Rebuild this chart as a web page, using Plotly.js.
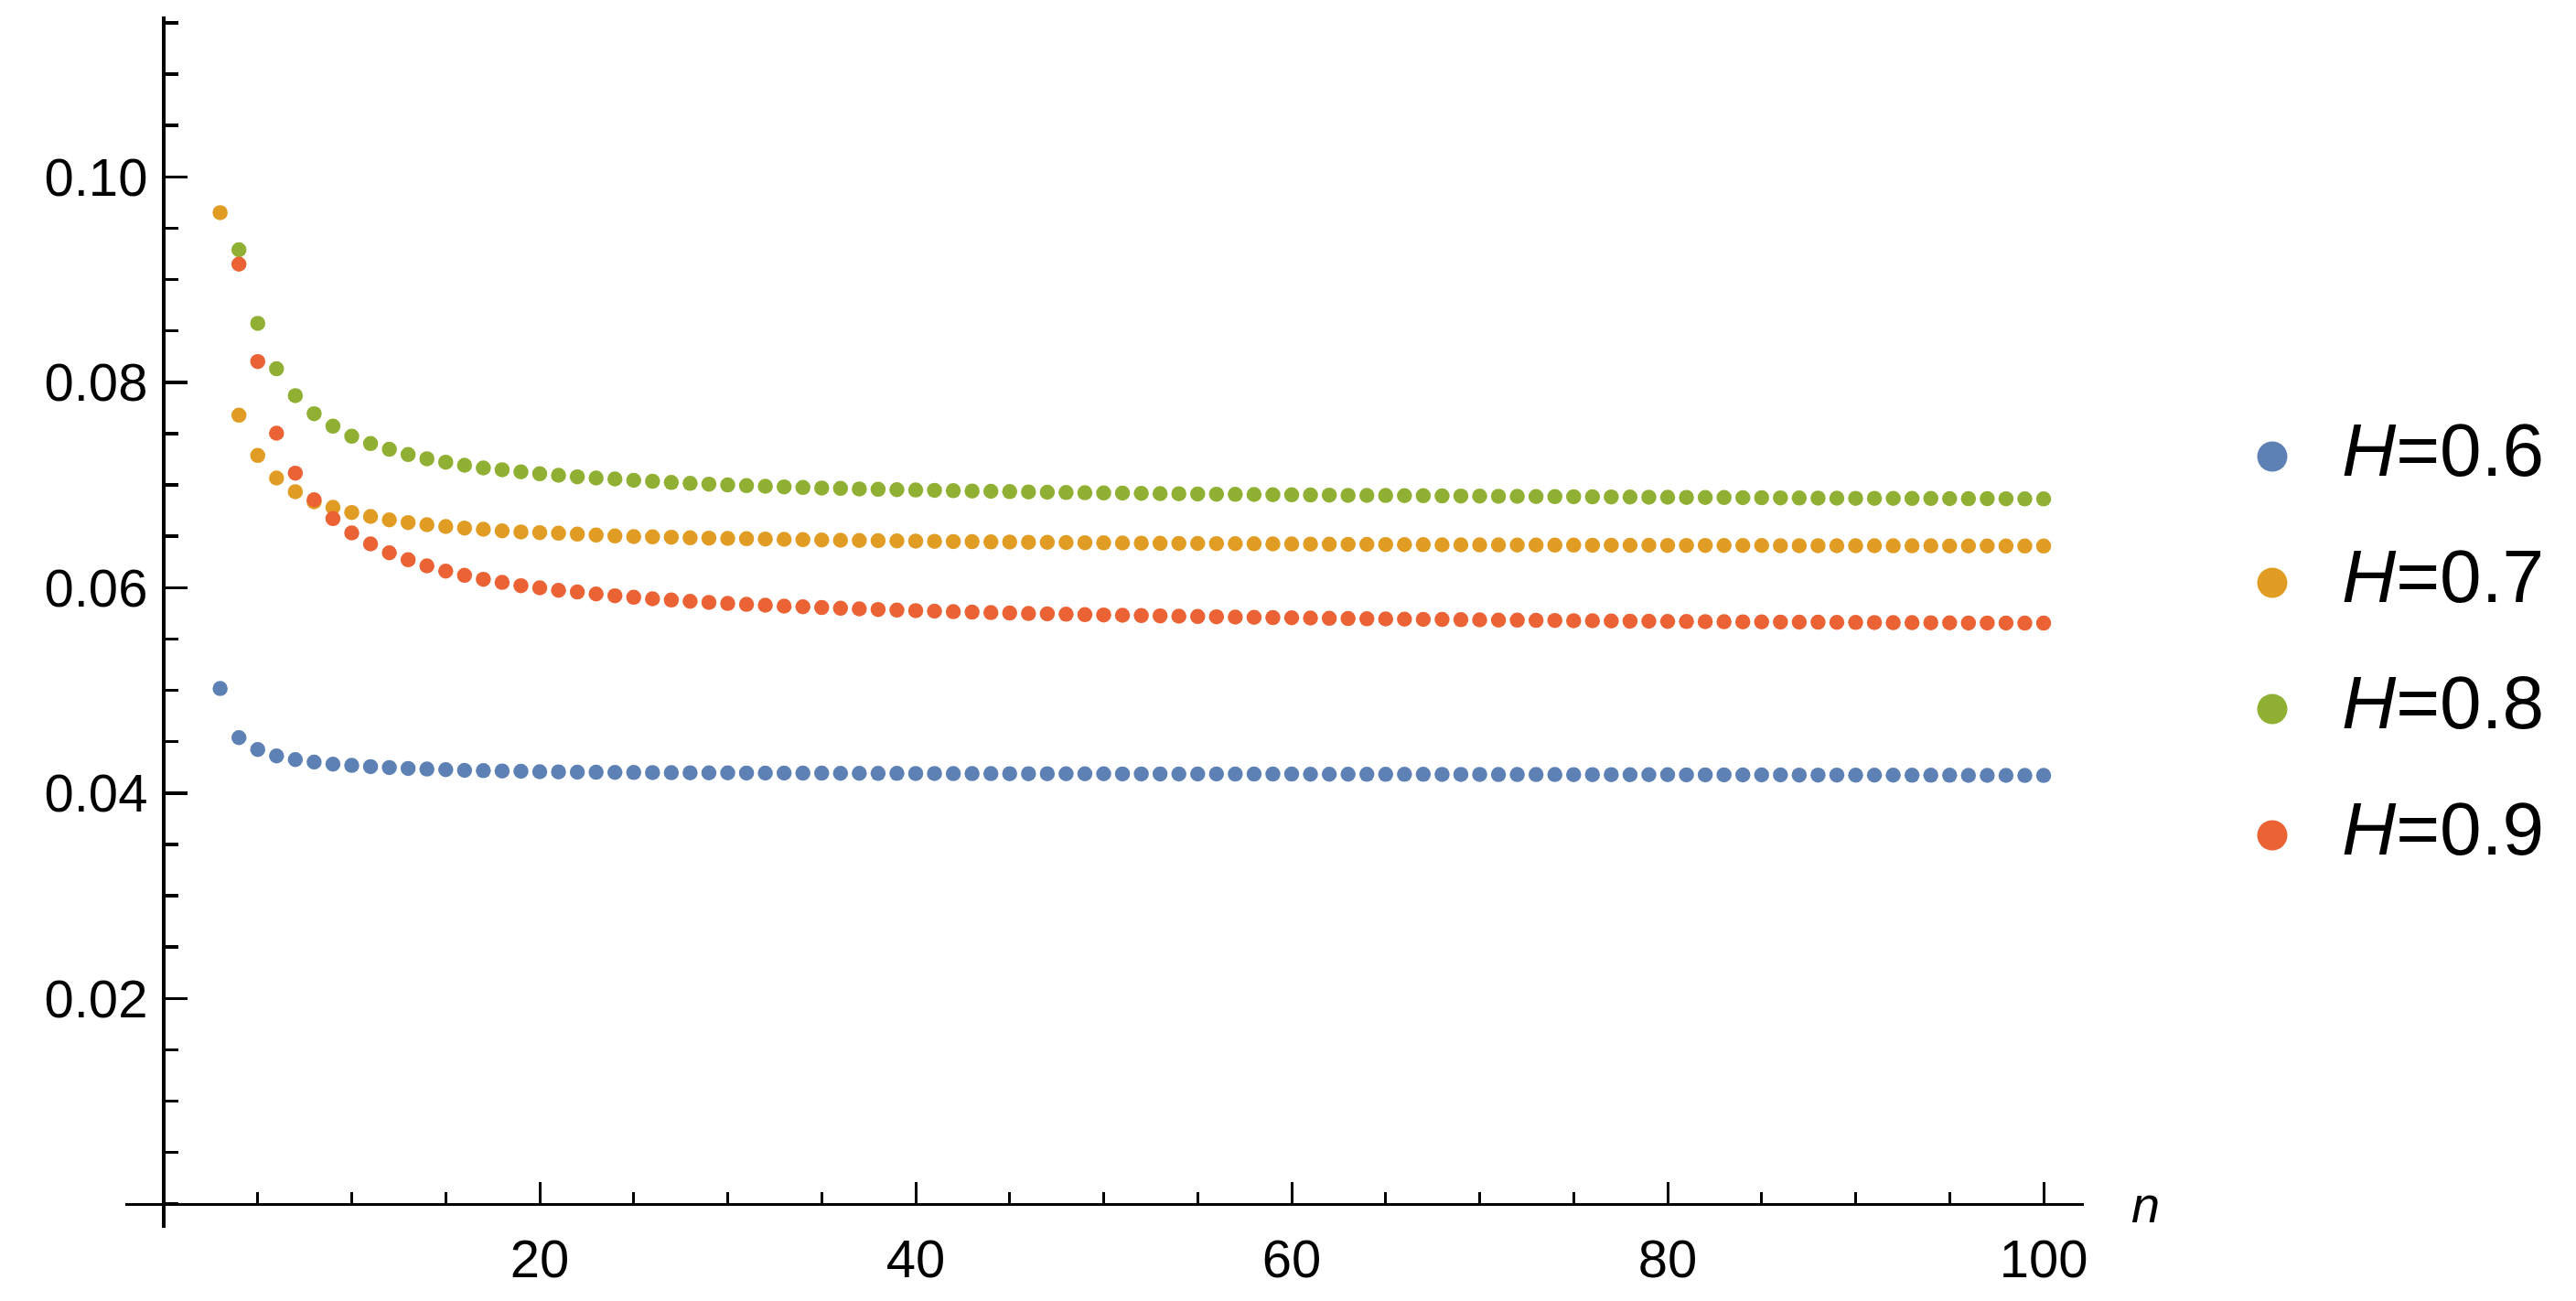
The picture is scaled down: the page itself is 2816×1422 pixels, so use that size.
<!DOCTYPE html>
<html>
<head>
<meta charset="utf-8">
<script src="https://cdn.plot.ly/plotly-3.0.1.min.js"></script>
<style>html,body{margin:0;padding:0;background:#fff;}#chart{width:2816px;height:1422px;}</style>
</head>
<body>
<div id="chart"></div>
<script>
// ---- data ----
const seriesNames = ["H=0.6", "H=0.7", "H=0.8", "H=0.9"];
const legendLabels = ["<i>H</i>=0.6", "<i>H</i>=0.7", "<i>H</i>=0.8", "<i>H</i>=0.9"];
const seriesColors = ["#5E81B5", "#E19C24", "#8FB032", "#EB6235"];
const firstN = [3, 3, 4, 4];

const h06 = [0.05017,0.04539,0.04423,0.04361,0.04325,0.04301,0.04281,0.04269,0.04257,0.04248,
0.04239,0.04233,0.04227,0.04221,0.04218,0.04215,0.04212,0.04207,0.04206,0.04203,
0.04202,0.04201,0.04200,0.04199,0.04198,0.04197,0.04196,0.04196,0.04195,0.04194,
0.04194,0.04193,0.04193,0.04192,0.04192,0.04191,0.04191,0.04190,0.04190,0.04189,
0.04189,0.04189,0.04188,0.04188,0.04188,0.04187,0.04187,0.04187,0.04186,0.04186,
0.04186,0.04185,0.04185,0.04185,0.04184,0.04184,0.04184,0.04184,0.04183,0.04183,
0.04183,0.04182,0.04182,0.04182,0.04182,0.04181,0.04181,0.04181,0.04180,0.04180,
0.04180,0.04180,0.04179,0.04179,0.04179,0.04178,0.04178,0.04178,0.04177,0.04177,
0.04177,0.04176,0.04176,0.04176,0.04175,0.04175,0.04175,0.04174,0.04174,0.04174,
0.04173,0.04173,0.04173,0.04172,0.04172,0.04172,0.04171,0.04171];

const h07 = [0.09652,0.07679,0.07287,0.07067,0.06934,0.06836,0.06782,0.06732,0.06693,0.06660,
0.06634,0.06613,0.06595,0.06580,0.06568,0.06553,0.06542,0.06536,0.06530,0.06521,
0.06512,0.06503,0.06497,0.06494,0.06491,0.06485,0.06482,0.06479,0.06476,0.06473,
0.06470,0.06467,0.06464,0.06461,0.06459,0.06457,0.06455,0.06453,0.06451,0.06449,
0.06447,0.06445,0.06444,0.06442,0.06441,0.06439,0.06438,0.06436,0.06435,0.06433,
0.06432,0.06431,0.06430,0.06429,0.06428,0.06427,0.06426,0.06425,0.06424,0.06423,
0.06422,0.06421,0.06420,0.06419,0.06418,0.06417,0.06417,0.06416,0.06416,0.06415,
0.06415,0.06414,0.06414,0.06413,0.06413,0.06412,0.06412,0.06411,0.06411,0.06411,
0.06410,0.06410,0.06410,0.06409,0.06409,0.06409,0.06408,0.06408,0.06408,0.06407,
0.06407,0.06407,0.06406,0.06406,0.06406,0.06405,0.06405,0.06405];

const h08 = [0.09290,0.08574,0.08131,0.07870,0.07694,0.07572,0.07474,0.07403,0.07347,0.07296,
0.07255,0.07222,0.07192,0.07165,0.07148,0.07127,0.07109,0.07094,0.07079,0.07067,
0.07058,0.07045,0.07035,0.07024,0.07015,0.07008,0.07000,0.06993,0.06987,0.06981,
0.06975,0.06970,0.06966,0.06961,0.06957,0.06954,0.06951,0.06948,0.06944,0.06941,
0.06938,0.06935,0.06932,0.06929,0.06926,0.06924,0.06922,0.06920,0.06918,0.06916,
0.06914,0.06912,0.06910,0.06908,0.06907,0.06905,0.06904,0.06902,0.06901,0.06899,
0.06898,0.06897,0.06896,0.06895,0.06893,0.06892,0.06891,0.06890,0.06889,0.06887,
0.06886,0.06885,0.06884,0.06883,0.06882,0.06881,0.06880,0.06879,0.06878,0.06877,
0.06876,0.06875,0.06874,0.06873,0.06872,0.06871,0.06870,0.06870,0.06869,0.06868,
0.06868,0.06867,0.06866,0.06866,0.06865,0.06864,0.06864];

const h09 = [0.09150,0.08202,0.07504,0.07115,0.06856,0.06672,0.06533,0.06426,0.06339,0.06271,
0.06212,0.06161,0.06120,0.06081,0.06051,0.06019,0.05998,0.05974,0.05957,0.05938,
0.05921,0.05906,0.05891,0.05879,0.05867,0.05856,0.05846,0.05837,0.05829,0.05820,
0.05813,0.05806,0.05799,0.05793,0.05787,0.05781,0.05776,0.05771,0.05766,0.05761,
0.05757,0.05752,0.05748,0.05745,0.05741,0.05737,0.05734,0.05731,0.05728,0.05725,
0.05722,0.05719,0.05716,0.05713,0.05711,0.05708,0.05706,0.05704,0.05701,0.05699,
0.05697,0.05695,0.05693,0.05691,0.05690,0.05688,0.05686,0.05684,0.05683,0.05681,
0.05680,0.05678,0.05677,0.05675,0.05674,0.05673,0.05671,0.05670,0.05669,0.05668,
0.05667,0.05666,0.05665,0.05664,0.05663,0.05662,0.05661,0.05660,0.05659,0.05659,
0.05658,0.05657,0.05656,0.05656,0.05655,0.05654,0.05654];

const xTickVals = [20, 40, 60, 80, 100];
const xTickText = ["20", "40", "60", "80", "100"];
const yTickVals = [0.02, 0.04, 0.06, 0.08, 0.10];
const yTickText = ["0.02", "0.04", "0.06", "0.08", "0.10"];

// ---- figure ----
const W = 2816, H = 1422;
const FONT = "Liberation Sans, Arial, Helvetica, sans-serif";
const seriesValues = [h06, h07, h08, h09];

const traces = seriesValues.map((vals, i) => ({
  type: "scatter", mode: "markers", name: seriesNames[i],
  x: vals.map((_, k) => firstN[i] + k), y: vals,
  marker: {color: seriesColors[i], size: 16.5, line: {width: 0}},
  showlegend: false, cliponaxis: false, hoverinfo: "skip",
  xaxis: "x", yaxis: "y"
}));

// legend drawn on an auxiliary hidden axis pair
const legendRows = seriesNames.map((_, i) => i);
traces.push({
  type: "scatter", mode: "markers", x: legendRows.map(() => 0), y: legendRows,
  marker: {color: seriesColors, size: 33, line: {width: 0}},
  showlegend: false, hoverinfo: "skip", xaxis: "x2", yaxis: "y2", cliponaxis: false
});
traces.push({
  type: "scatter", mode: "text", x: legendRows.map(() => 1), y: legendRows,
  text: legendLabels, textposition: "middle right",
  textfont: {family: FONT, size: 82, color: "#000"},
  showlegend: false, hoverinfo: "skip", xaxis: "x2", yaxis: "y2", cliponaxis: false
});

const xDom = [137 / W, 2278 / W];
const yDom = [1 - 1342 / H, 1 - 18 / H];
const xRange = [-2.044, 102.14];
const yRange = [-0.00234, 0.11562];
const xAxisPos = yDom[0] + (0 - yRange[0]) / (yRange[1] - yRange[0]) * (yDom[1] - yDom[0]);
const yAxisPos = xDom[0] + (0 - xRange[0]) / (xRange[1] - xRange[0]) * (xDom[1] - xDom[0]);

const layout = {
  width: W, height: H,
  margin: {l: 0, r: 0, t: 0, b: 0, pad: 0},
  paper_bgcolor: "#fff", plot_bgcolor: "rgba(0,0,0,0)",
  showlegend: false,
  font: {family: FONT, color: "#000"},
  xaxis: {
    domain: xDom, range: xRange, anchor: "free", position: xAxisPos,
    showline: true, linecolor: "#000", linewidth: 3.3,
    showgrid: false, zeroline: false,
    ticks: "inside", ticklen: 23, tickwidth: 3, tickcolor: "#000",
    tickmode: "array", tickvals: xTickVals, ticktext: xTickText,
    tickfont: {family: FONT, size: 58, color: "#000"}, ticklabelstandoff: 8,
    minor: {tickmode: "linear", tick0: 0, dtick: 5, ticks: "inside", ticklen: 12, tickwidth: 3, tickcolor: "#000", showgrid: false}
  },
  yaxis: {
    domain: yDom, range: yRange, anchor: "free", position: yAxisPos,
    showline: true, linecolor: "#000", linewidth: 4,
    showgrid: false, zeroline: false,
    ticks: "inside", ticklen: 24, tickwidth: 3.5, tickcolor: "#000",
    tickmode: "array", tickvals: yTickVals, ticktext: yTickText,
    tickfont: {family: FONT, size: 58, color: "#000"}, ticklabelstandoff: 4,
    minor: {tickmode: "linear", tick0: 0, dtick: 0.005, ticks: "inside", ticklen: 14, tickwidth: 3.5, tickcolor: "#000", showgrid: false}
  },
  xaxis2: {domain: [2400 / W, 1], range: [-1.1053, 4.3684], anchor: "y2", visible: false, fixedrange: true},
  yaxis2: {domain: [0, 1], range: [6.688, -3.616], anchor: "x2", visible: false, fixedrange: true},
  annotations: [{
    xref: "paper", yref: "paper", x: 2345 / W, y: 1 - 1316 / H,
    xanchor: "center", yanchor: "middle", showarrow: false,
    text: "<i>n</i>", font: {family: FONT, size: 56, color: "#000"}
  }]
};

Plotly.newPlot("chart", traces, layout, {staticPlot: true, displayModeBar: false});
</script>
</body>
</html>
